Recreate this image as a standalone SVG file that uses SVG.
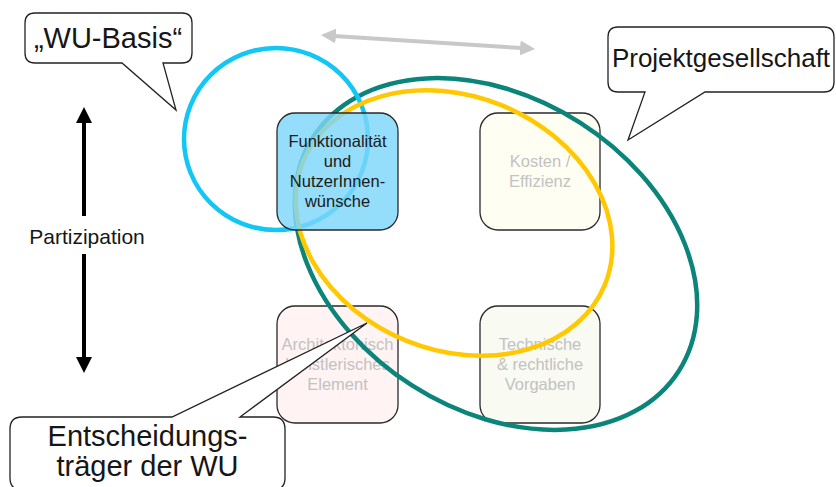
<svg xmlns="http://www.w3.org/2000/svg" width="836" height="487" viewBox="0 0 836 487">
  <style>
    .box { stroke: #2a2a2a; stroke-width: 1.3; }
    .boxtxt { font-family: "Liberation Sans", Arial, sans-serif; font-size: 16.5px; text-anchor: middle; fill: #c2c2c2; }
    .boxtxt.dark { fill: #1a1a1a; }
    .callout { fill: #ffffff; stroke: #222222; stroke-width: 1.3; stroke-linejoin: miter; }
    .calltxt { font-family: "Liberation Sans", Arial, sans-serif; fill: #161616; text-anchor: middle; }
    .ring { fill: none; stroke-width: 4.5; }
  </style>
  <defs>
    <marker id="ah-black" viewBox="0 0 16 16" refX="2" refY="8" markerWidth="16" markerHeight="16" markerUnits="userSpaceOnUse" orient="auto">
      <path d="M0,0 L16,8 L0,16 Z" fill="#000000"/>
    </marker>
    <marker id="ah-gray" viewBox="0 0 16 16" refX="2" refY="8" markerWidth="15" markerHeight="15" markerUnits="userSpaceOnUse" orient="auto-start-reverse">
      <path d="M0,0 L16,8 L0,16 Z" fill="#c8c8c8"/>
    </marker>
  </defs>

  <!-- pale boxes (beneath the rings) -->
  <g id="kosten">
    <rect class="box" x="480" y="113" width="120" height="117" rx="18" fill="#fffef3"/>
    <text class="boxtxt" x="540" y="167">Kosten /</text>
    <text class="boxtxt" x="540" y="187">Effizienz</text>
  </g>
  <g id="architektonisch">
    <rect class="box" x="277" y="306" width="121" height="117" rx="18" fill="#fff3f3"/>
    <text class="boxtxt" x="337.5" y="350">Architektonisch</text>
    <text class="boxtxt" x="337.5" y="370">künstlerisches</text>
    <text class="boxtxt" x="337.5" y="390">Element</text>
  </g>
  <g id="technische">
    <rect class="box" x="480" y="306" width="120" height="117" rx="18" fill="#f9faf1"/>
    <text class="boxtxt" x="540" y="350">Technische</text>
    <text class="boxtxt" x="540" y="370">&amp; rechtliche</text>
    <text class="boxtxt" x="540" y="390">Vorgaben</text>
  </g>

  <!-- rings -->
  <g id="ring-projektgesellschaft">
    <ellipse class="ring" cx="496" cy="254" rx="217" ry="156" transform="rotate(32.6 496 254)" stroke="#0b857a"/>
  </g>
  <g id="ring-wu-basis">
    <ellipse class="ring" cx="276" cy="139" rx="92" ry="91" stroke="#12c6f5"/>
  </g>
  <g id="ring-entscheidung">
    <ellipse class="ring" cx="454" cy="223" rx="163" ry="127" transform="rotate(22.2 454 223)" stroke="#ffc800"/>
  </g>

  <!-- highlighted box over the rings -->
  <g id="funktionalitaet">
    <rect class="box" x="277" y="113" width="121" height="117" rx="18" fill="#7dd6fa" fill-opacity="0.82"/>
    <text class="boxtxt dark" x="337.5" y="147">Funktionalität</text>
    <text class="boxtxt dark" x="337.5" y="167">und</text>
    <text class="boxtxt dark" x="337.5" y="187">NutzerInnen-</text>
    <text class="boxtxt dark" x="337.5" y="207">wünsche</text>
  </g>

  <!-- connectors -->
  <g id="connectors">
    <line x1="334" y1="35.9" x2="522" y2="48.1" stroke="#c8c8c8" stroke-width="4" marker-start="url(#ah-gray)" marker-end="url(#ah-gray)"/>
    <line x1="84" y1="216" x2="84" y2="121" stroke="#000000" stroke-width="4" marker-end="url(#ah-black)"/>
    <line x1="84" y1="254" x2="84" y2="359" stroke="#000000" stroke-width="4" marker-end="url(#ah-black)"/>
  </g>

  <g id="partizipation">
    <text class="calltxt" x="87" y="244" font-size="21">Partizipation</text>
  </g>

  <!-- callouts -->
  <g id="callout-wu-basis">
    <path class="callout" d="M35,13 H182 Q192,13 192,23 V53 Q192,63 182,63 H163 L176,110 L122,63 H35 Q25,63 25,53 V23 Q25,13 35,13 Z"/>
    <text class="calltxt" x="108" y="48" font-size="29">„WU-Basis“</text>
  </g>
  <g id="callout-projektgesellschaft">
    <path class="callout" d="M618,27 H824 Q834,27 834,37 V82 Q834,92 824,92 H705 L628,140 L645,92 H618 Q608,92 608,82 V37 Q608,27 618,27 Z"/>
    <text class="calltxt" x="721" y="67" font-size="26">Projektgesellschaft</text>
  </g>
  <g id="callout-entscheidungstraeger">
    <path class="callout" d="M22,417 H172 L367,323 L240,417 H273 Q285,417 285,429 V478 Q285,490 273,490 H22 Q10,490 10,478 V429 Q10,417 22,417 Z"/>
    <text class="calltxt" x="147.5" y="446" font-size="29">Entscheidungs-</text>
    <text class="calltxt" x="147.5" y="476" font-size="29">träger der WU</text>
  </g>
</svg>
